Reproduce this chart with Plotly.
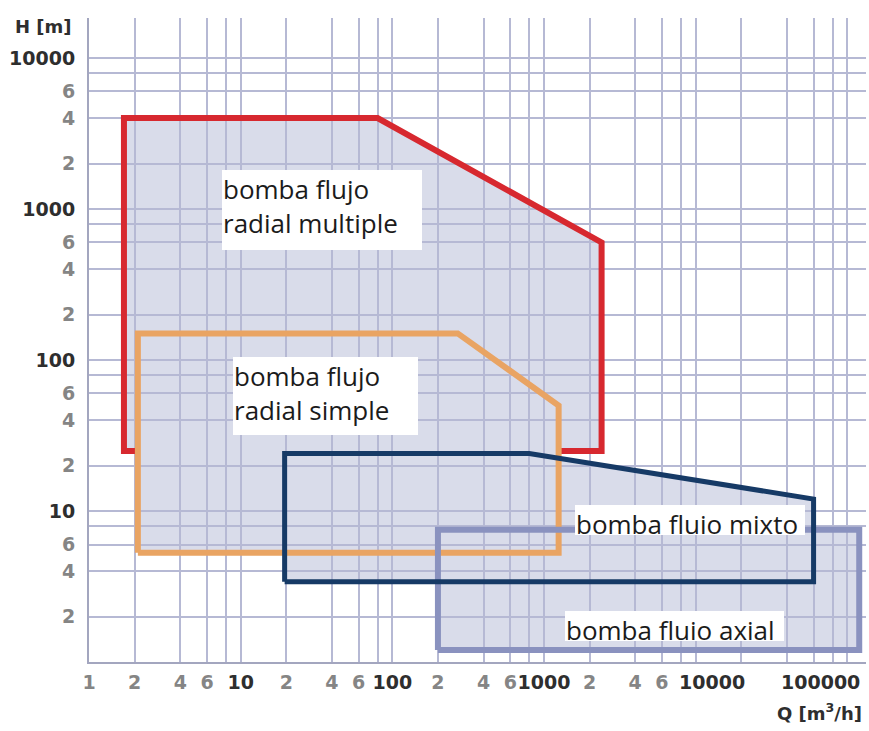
import math
import plotly.graph_objects as go

# Operating ranges of pump types: flow Q [m3/h] and head H [m] at the polygon vertices
radial_multiple_q = [1.7, 1.7, 80, 2400, 2400]
radial_multiple_h = [25, 4000, 4000, 600, 25]
radial_simple_q = [2.1, 2.1, 270, 1250, 1250]
radial_simple_h = [5.3, 150, 150, 50, 5.3]
mixed_q = [19.5, 19.5, 800, 60000, 60000]
mixed_h = [3.4, 24, 24, 12, 3.4]
axial_q = [200, 200, 120000, 120000]
axial_h = [1.2, 7.5, 7.5, 1.2]

# Axis ticks
x_tickvals = [1, 2, 4, 6, 10, 20, 40, 60, 100, 200, 400, 600, 1000, 2000, 4000, 6000]
x_ticktext = ["1", "2", "4", "6", "10", "2", "4", "6", "100", "2", "4", "6", "1000", "2", "4", "6"]
# upper decades: labels drawn slightly offset from their grid line
x_far_vals = [10000, 100000]
x_far_text = ["10000", "100000"]
x_far_shift = [16, -27]
x_minor = [8, 80, 800, 8000, 10000, 20000, 40000, 60000, 80000, 100000]
y_tickvals = [2, 4, 6, 10, 20, 40, 60, 100, 200, 400, 600, 1000, 2000, 4000, 6000, 10000]
y_ticktext = ["2", "4", "6", "10", "2", "4", "6", "100", "2", "4", "6", "1000", "2", "4", "6", "10000"]
y_minor = [8, 80, 800, 8000]

W, H = 869, 731
L, R, T, B = 89, 3, 18, 69
PW, PH = W - L - R, H - T - B

FILL = "#d9dcea"
GRID = "#b6b9d4"
TEXT_DARK = "#2e2e2e"
TEXT_GRAY = "#858585"


def styled(vals, texts):
    """Grey labels for intermediate ticks, dark labels for decades."""
    out = []
    for v, t in zip(vals, texts):
        decade = v >= 10 and abs(math.log10(v) - round(math.log10(v))) < 1e-9
        out.append(t if decade else f"<span style='color:{TEXT_GRAY}'>{t}</span>")
    return out


def px(x):
    return (x - L) / PW


def py(y):
    return (H - B - y) / PH


def area_path(qs, hs):
    pts = [f"{q},{h}" for q, h in zip(qs, hs)]
    return "M " + " L ".join(pts) + " Z"


fig = go.Figure()

# Filled areas sit below the grid so the grid stays visible through them
for qs, hs in [(radial_multiple_q, radial_multiple_h), (radial_simple_q, radial_simple_h),
               (mixed_q, mixed_h), (axial_q, axial_h)]:
    fig.add_shape(type="path", path=area_path(qs, hs), xref="x", yref="y",
                  fillcolor=FILL, line=dict(width=0), layer="below")

# Radial multiple outline: the bottom edge is hidden where the radial simple area covers it
red_q = [min(radial_simple_q)] + radial_multiple_q + [max(radial_simple_q)]
red_h = [radial_multiple_h[0]] + radial_multiple_h + [radial_multiple_h[-1]]

outlines = [
    (red_q, red_h, "#d7282f", 6),
    (radial_simple_q + radial_simple_q[:1], radial_simple_h + radial_simple_h[:1], "#e9a463", 6),
    (axial_q + axial_q[:1], axial_h + axial_h[:1], "#8a92bf", 6),
    (mixed_q + mixed_q[:1], mixed_h + mixed_h[:1], "#163a66", 5),
]
for qs, hs, color, width in outlines:
    fig.add_trace(go.Scatter(x=qs, y=hs, mode="lines",
                             line=dict(color=color, width=width),
                             hoverinfo="skip", showlegend=False))

tickfont = dict(family="DejaVu Sans", size=19, color=TEXT_DARK, weight="bold")

fig.update_xaxes(type="log", range=[0, math.log10(133000)],
                 tickmode="array", tickvals=x_tickvals, ticktext=styled(x_tickvals, x_ticktext),
                 tickangle=0, tickfont=tickfont, ticks="outside", ticklen=2,
                 tickcolor="rgba(0,0,0,0)", automargin=False,
                 showgrid=True, gridcolor=GRID, gridwidth=1.5,
                 minor=dict(tickvals=x_minor, showgrid=True, gridcolor=GRID, gridwidth=1.5, ticks=""),
                 showline=True, linecolor="#a3a6bf", linewidth=2, zeroline=False)
fig.update_yaxes(type="log", range=[0, math.log10(18400)],
                 tickmode="array", tickvals=y_tickvals, ticktext=styled(y_tickvals, y_ticktext),
                 tickangle=0, tickfont=tickfont, ticks="outside", ticklen=8,
                 tickcolor="rgba(0,0,0,0)", automargin=False,
                 showgrid=True, gridcolor=GRID, gridwidth=1.5,
                 minor=dict(tickvals=y_minor, showgrid=True, gridcolor=GRID, gridwidth=1.5, ticks=""),
                 showline=True, linecolor="#a3a6bf", linewidth=2, zeroline=False)

# Upper-decade x labels, positioned on the log axis (annotation x is log10 on log axes)
for v, t, shift in zip(x_far_vals, x_far_text, x_far_shift):
    fig.add_annotation(text=t, xref="x", yref="paper", x=math.log10(v), y=py(682),
                       xanchor="center", yanchor="middle", xshift=shift,
                       showarrow=False, font=tickfont)

label_font = dict(family="Open Sans", size=26, color="#1b1b1b")
boxes = [
    ("bomba flujo<br>radial multiple", 222, 170, 198, 78),
    ("bomba flujo<br>radial simple", 233, 357, 183, 76),
    ("bomba flujo mixto", 575, 505, 228, 28),
    ("bomba flujo axial", 565, 611, 217, 28),
]
for text, bx, by, bw, bh in boxes:
    fig.add_annotation(text=text, xref="paper", yref="paper", x=px(bx), y=py(by),
                       xanchor="left", yanchor="top", align="left", valign="top",
                       width=bw, height=bh, showarrow=False, bgcolor="white",
                       borderpad=1, borderwidth=0, font=label_font)

title_font = dict(family="DejaVu Sans", size=18, color=TEXT_DARK, weight="bold")
fig.add_annotation(text="H [m]", xref="paper", yref="paper", x=px(43), y=py(26),
                   xanchor="center", yanchor="middle", showarrow=False, font=title_font)
fig.add_annotation(text="Q [m<sup>3</sup>/h]", xref="paper", yref="paper", x=px(819), y=py(712),
                   xanchor="center", yanchor="middle", showarrow=False, font=title_font)

fig.update_layout(width=W, height=H, autosize=False,
                  margin=dict(l=L, r=R, t=T, b=B, autoexpand=False),
                  paper_bgcolor="white", plot_bgcolor="white", showlegend=False)

fig.write_html("out.html")
